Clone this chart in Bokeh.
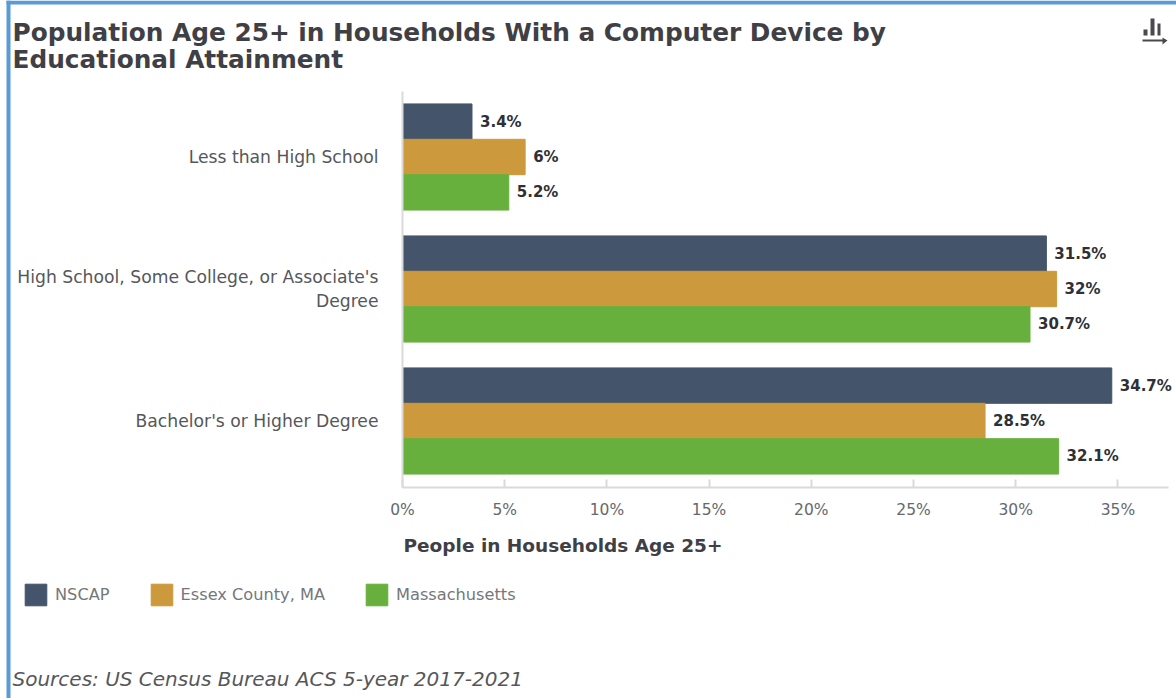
from bokeh.core.properties import value
from bokeh.embed import file_html
from bokeh.models import BoxAnnotation, Label, LinearAxis, PolyAnnotation, Range1d
from bokeh.plotting import figure
from bokeh.resources import INLINE

categories = [
    "Bachelor's or Higher Degree",
    "High School, Some College, or Associate's\nDegree",
    "Less than High School",
]
nscap = [34.7, 31.5, 3.4]
essex = [28.5, 32, 6]
massachusetts = [32.1, 30.7, 5.2]
series_names = ["NSCAP", "Essex County, MA", "Massachusetts"]
series_colors = ["#44546A", "#CC993D", "#67B03D"]
x_ticks = [0, 5, 10, 15, 20, 25, 30, 35]

FONT = "DejaVu Sans"
INK = "#3F4046"
MUTED = "#66686C"
W, H = 1176, 698

# The frame fills the page, so the ranges carry the plot's placement on it.
PX_PER_PCT = 20.44
ZERO_PX = 402
PX_PER_ROW = 132
BOTTOM_ROW_PX = 420.5
rows = list(range(len(categories)))

p = figure(
    width=W, height=H, output_backend="svg", toolbar_location=None,
    x_range=Range1d(-ZERO_PX / PX_PER_PCT, (W - ZERO_PX) / PX_PER_PCT),
    y_range=Range1d(-(H - BOTTOM_ROW_PX) / PX_PER_ROW, (BOTTOM_ROW_PX / PX_PER_ROW)),
    x_axis_type=None, y_axis_type=None,
    min_border=0, outline_line_color=None,
)
p.grid.visible = False

# One offset bar per series inside each category band.
bar_h = 0.268
for vals, name, color, off in zip([nscap, essex, massachusetts], series_names, series_colors, [bar_h, 0, -bar_h]):
    data = dict(y=[r + off for r in rows], v=vals, txt=[f"{v:g}%" for v in vals])
    p.hbar(y="y", right="v", left=0, height=bar_h, color=color, source=data, legend_label=name)
    p.text(x="v", y="y", text="txt", source=data, x_offset=8, text_baseline="middle",
           text_font=value(FONT), text_font_style="bold", text_font_size="15px", text_color="#2E3035")

xaxis = LinearAxis(fixed_location=-0.5, ticker=x_ticks, bounds=(0, 37.47),
                   major_label_overrides={t: f"{t}%" for t in x_ticks},
                   major_tick_in=8, major_tick_out=0, minor_tick_line_color=None,
                   axis_line_color="#DADADA", axis_line_width=2,
                   major_tick_line_color="#DADADA", major_tick_line_width=2,
                   major_label_standoff=14, major_label_text_font=FONT,
                   major_label_text_font_size="15.5px", major_label_text_color=MUTED)
p.add_layout(xaxis, "below")

yaxis = LinearAxis(fixed_location=0, ticker=rows, bounds=(-0.5, 2.5),
                   major_label_overrides=dict(zip(rows, categories)),
                   major_tick_line_color=None, minor_tick_line_color=None,
                   major_tick_in=0, major_tick_out=0,
                   axis_line_color="#DADADA", axis_line_width=2,
                   major_label_standoff=24, major_label_text_font=FONT,
                   major_label_text_font_size="17.2px", major_label_text_color="#55575B")
p.add_layout(yaxis, "left")


def note(text, x, baseline, style, size, color):
    """Text placed by page pixels, with the baseline measured from the page top."""
    p.add_layout(Label(x=x, y=H - baseline, x_units="screen", y_units="screen", text=text, text_font=FONT,
                       text_font_style=style, text_font_size=size, text_color=color, text_baseline="alphabetic"))


note("People in Households Age 25+", 403, 545, "bold", "18.5px", INK)
note("Population Age 25+ in Households With a Computer Device by", 12, 32, "bold", "24.8px", INK)
note("Educational Attainment", 12, 59, "bold", "24.8px", INK)
note("Sources: US Census Bureau ACS 5-year 2017-2021", 12, 678, "italic", "20px", "#55575B")

# Legend row under the axis.
legend = p.legend[0]
legend.orientation = "horizontal"
legend.location = (22, H - 608)
legend.glyph_width = 27
legend.glyph_height = 27
legend.label_standoff = 6
legend.spacing = 38
legend.padding = 0
legend.margin = 0
legend.border_line_color = None
legend.background_fill_color = None
legend.label_text_font = FONT
legend.label_text_font_size = "16.2px"
legend.label_text_color = "#75777B"


def block(left, right, top, bottom, color):
    """Filled rectangle placed by page pixels, measured from the top-left corner."""
    p.add_layout(BoxAnnotation(left=left, right=right, top=H - top, bottom=H - bottom, left_units="screen",
                               right_units="screen", top_units="screen", bottom_units="screen", fill_color=color,
                               fill_alpha=1, line_color=None, level="overlay"))


# Blue frame along the top and left of the page.
FRAME = "#5B9BD5"
block(6, W, 0, 4, FRAME)
block(6, 10, 0, H, FRAME)

# Small export icon: three bars over an arrow.
ICON = "#4A4A4E"
block(1143, 1147, 29, 35, ICON)
block(1150, 1154, 18, 35, ICON)
block(1157, 1160, 23, 35, ICON)
block(1142, 1164, 39, 41, ICON)
p.add_layout(PolyAnnotation(xs=[1162, 1167, 1162], ys=[H - 37, H - 40, H - 44], xs_units="screen", ys_units="screen",
                            fill_color=ICON, fill_alpha=1, line_color=None))

open("out.html", "w").write(file_html(p, INLINE))
